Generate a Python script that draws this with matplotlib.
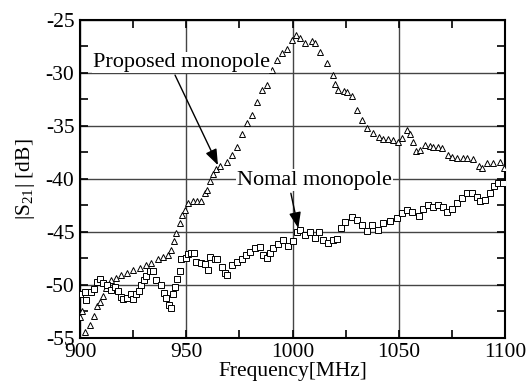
import numpy as np
import matplotlib
matplotlib.use("Agg")
import matplotlib.pyplot as plt
from matplotlib.ticker import MultipleLocator

plt.rcParams['font.family'] = ['Liberation Serif', 'DejaVu Serif']
plt.rcParams['mathtext.fontset'] = 'custom'
plt.rcParams['mathtext.rm'] = 'Liberation Serif'
plt.rcParams['axes.unicode_minus'] = False

# Proposed monopole (triangles)
f_prop = [900, 901, 902.4, 904.5, 906.6, 908, 909.3, 910.8, 912.3, 914.6, 917, 919.3,
          922, 925, 928, 931, 933.5, 936.7, 939, 941.4, 942.7, 944, 945.3, 946.9, 948,
          949.3, 950.8, 953, 955, 957, 958.8, 959.6, 961, 962.7, 964, 965.9, 969, 971.4,
          973.7, 976, 978.4, 980.8, 983.1, 985.5, 987.8, 990.2, 992.5, 994.9, 997.3,
          999.6, 1001.6, 1003.5, 1005.9, 1009, 1010.6, 1012.9, 1016.1, 1019.2, 1020,
          1021.6, 1024, 1025.5, 1027.8, 1030.2, 1032.6, 1034.9, 1038, 1040.5, 1042.7,
          1045, 1047.4, 1049.8, 1051.4, 1053.7, 1055.3, 1056.8, 1058.1, 1060, 1062.4,
          1064.5, 1066.3, 1068.3, 1070.2, 1073.3, 1075, 1077.3, 1080, 1082, 1085.1,
          1087.5, 1089, 1091.4, 1094.5, 1097.6, 1099.5]
s_prop = [-53.0, -52.5, -54.4, -53.8, -52.9, -52.0, -51.6, -51.0, -50.3, -49.5, -49.3, -49.1,
          -48.9, -48.6, -48.4, -48.1, -47.9, -47.6, -47.4, -47.2, -46.7, -45.9, -45.1, -44.2, -43.4,
          -42.9, -42.3, -42.1, -42.1, -42.1, -41.35, -41.0, -40.2, -39.5, -39.1, -38.8, -38.4, -37.7,
          -37.0, -35.8, -34.75, -34.0, -32.7, -31.6, -31.1, -29.7, -28.8, -28.1, -27.7,
          -26.9, -26.4, -26.7, -27.2, -27.0, -27.2, -28.0, -29.1, -30.2, -31.0,
          -31.6, -31.7, -31.75, -32.2, -33.5, -34.4, -35.2, -35.7, -36.0, -36.2,
          -36.2, -36.3, -36.5, -36.1, -35.4, -35.8, -36.5, -37.4, -37.3, -36.8,
          -36.9, -36.95, -37.0, -37.1, -37.7, -37.9, -38.0, -38.0, -38.0, -38.1,
          -38.8, -39.0, -38.5, -38.5, -38.4, -39.0]

# Normal monopole (squares)
f_norm = [900, 902.2, 903, 905.3, 906.6, 908.2, 909.3, 910.8, 912.8, 914.7, 916.3, 917.9,
          919.1, 920.2, 922.3, 923.8, 924.9, 926.5, 927.7, 928.8, 930.1, 931.2, 932.8, 934.4,
          935.9, 938, 939.5, 940.6, 941.7, 942.7, 943.8, 944.5, 945.8, 946.9, 947.7, 950,
          950.8, 952.4, 953.6, 954.7, 957.1, 958.7, 960.2, 961, 963.4, 964.3, 966.7, 968.2,
          969.3, 971.4, 973.7, 976.1, 978.1, 980, 982.4, 984.7, 986.3, 987.8, 989.4, 991,
          993.3, 995.7, 998, 1000.4, 1002, 1003.5, 1005.9, 1008.2, 1010.6, 1012.6, 1014.5,
          1016.8, 1019.2, 1020.8, 1022.8, 1024.7, 1027.8, 1030.2, 1032.6, 1034.9, 1037.3,
          1040.4, 1042.7, 1045.9, 1049.3, 1051.4, 1053.7, 1056.1, 1059.7, 1061.6, 1063.9,
          1066.3, 1068.6, 1071, 1072.5, 1074.9, 1077.2, 1079.6, 1082, 1084.3, 1086.7, 1088.2,
          1090.6, 1092.9, 1094.8, 1096.8, 1099.2]
s_norm = [-50.85, -50.7, -51.4, -50.7, -50.4, -49.7, -49.4, -49.8, -50.0, -50.5, -50.2, -50.6,
          -51.1, -51.35, -51.2, -50.85, -51.3, -50.9, -50.6, -50.0, -49.5, -49.2, -48.7, -48.7,
          -49.5, -50.0, -50.8, -51.25, -51.9, -52.2, -50.9, -50.2, -49.4, -48.7, -47.6, -47.5,
          -47.1, -47.0, -47.0, -47.8, -47.95, -48.05, -48.6, -47.4, -47.6, -47.6, -48.3, -48.9,
          -49.05, -48.1, -47.8, -47.6, -47.2, -46.85, -46.5, -46.4, -47.2, -47.5, -47.0, -46.5,
          -46.1, -45.75, -46.3, -45.9, -45.05, -44.8, -45.3, -45.05, -45.6, -45.0, -45.75,
          -46.0, -45.75, -45.7, -44.65, -44.1, -43.6, -43.9, -44.3, -44.95, -44.3,
          -44.8, -44.2, -44.0, -43.7, -43.2, -42.9, -43.1, -43.5, -42.8, -42.5,
          -42.6, -42.5, -42.6, -43.1, -42.8, -42.3, -41.8, -41.35, -41.35, -41.7, -42.1,
          -42.0, -41.35, -40.7, -40.35, -40.35]

fig = plt.figure(figsize=(5.3, 3.92), dpi=100)
ax = fig.add_axes([0.151, 0.138, 0.802, 0.811])

ax.plot(f_prop, s_prop, linestyle='none', marker='^', markersize=4.4,
        markerfacecolor='white', markeredgecolor='black', markeredgewidth=0.7, zorder=3)
ax.plot(f_norm, s_norm, linestyle='none', marker='s', markersize=4.0,
        markerfacecolor='white', markeredgecolor='black', markeredgewidth=0.7, zorder=3)

ax.set_xlim(900, 1100)
ax.set_ylim(-55, -25)
ax.xaxis.set_major_locator(MultipleLocator(50))
ax.xaxis.set_minor_locator(MultipleLocator(25))
ax.yaxis.set_major_locator(MultipleLocator(5))
ax.yaxis.set_minor_locator(MultipleLocator(2.5))
ax.tick_params(which='both', direction='in', top=True, right=True, width=1.2,
               labelsize=15.5, pad=4)
ax.tick_params(which='major', length=6)
ax.tick_params(which='minor', length=6)
ax.grid(which='major', color='#444444', linewidth=1.0)
for sp in ax.spines.values():
    sp.set_linewidth(1.5)

ax.set_xlabel('Frequency[MHz]', fontsize=15.5, labelpad=0)
ax.set_ylabel(r'$|\mathrm{S}_{21}|$ [dB]', fontsize=15.5, labelpad=6)

box = dict(facecolor='white', edgecolor='none', pad=1)
ax.text(947.8, -29.0, 'Proposed monopole', fontsize=16, ha='center', va='center',
        bbox=box, zorder=4)
ax.text(1010.3, -40.1, 'Nomal monopole', fontsize=16, ha='center', va='center',
        bbox=box, zorder=4)

arrow = dict(arrowstyle='-|>,head_length=0.8,head_width=0.3', color='black',
             lw=1.0, shrinkA=0, shrinkB=0, mutation_scale=12)
ax.annotate('', xy=(964.9, -38.7), xytext=(944.7, -30.2), arrowprops=arrow, zorder=5)
ax.annotate('', xy=(1002.7, -44.65), xytext=(999.2, -41.35), arrowprops=arrow, zorder=5)

fig.savefig('out.png', dpi=100)
